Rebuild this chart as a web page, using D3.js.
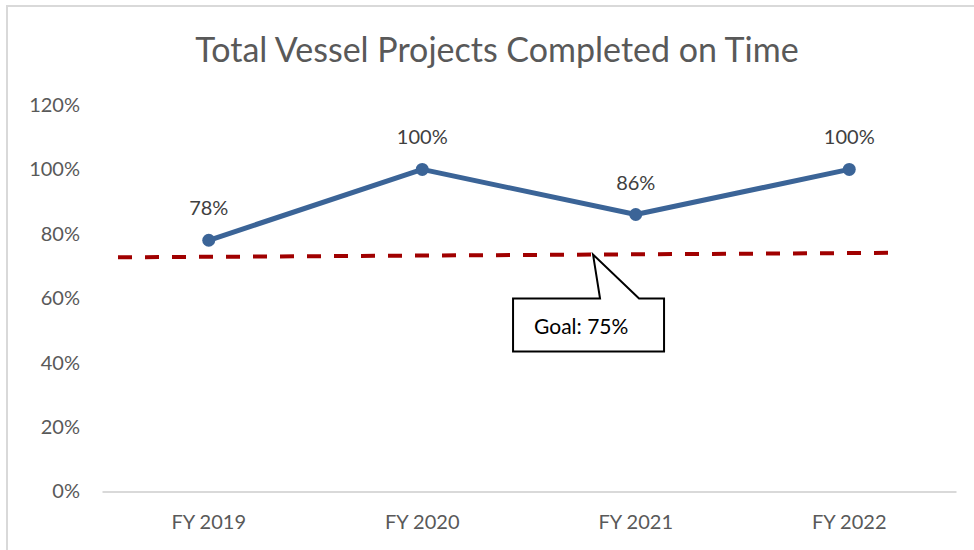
<!DOCTYPE html>
<html>
<head>
<meta charset="utf-8">
<script src="https://cdn.jsdelivr.net/npm/d3@7"></script>
<style>
  html, body { margin: 0; padding: 0; background: #fff; }
  svg { display: block; font-family: Lato, "Open Sans", sans-serif; }
</style>
</head>
<body>
<div id="chart"></div>
<script>
// chart data
const categories = ["FY 2019", "FY 2020", "FY 2021", "FY 2022"];
const onTime = [78, 100, 86, 100];
const yTicks = [0, 20, 40, 60, 80, 100, 120];
const chartTitle = "Total Vessel Projects Completed on Time";

// goal line as drawn (it is a hand placed shape, slightly tilted)
const goalLabel = "Goal: 75%";
const goalEnds = [72.7, 74.1];     // value at left / right end
const goalSpan = [-0.425, 3.19];   // position in category steps
const calloutAt = 1.8;             // where the callout points, category steps

const width = 974, height = 550;

const svg = d3.select("#chart").append("svg")
    .attr("width", width)
    .attr("height", height);

// frame
svg.append("path")
    .attr("d", "M7,550 V6 H974")
    .attr("fill", "none")
    .attr("stroke", "#d9d9d9")
    .attr("stroke-width", 2);

svg.append("text")
    .attr("x", 497)
    .attr("y", 62)
    .attr("text-anchor", "middle")
    .attr("font-size", 34)
    .attr("fill", "#595959")
    .text(chartTitle);

const x = d3.scaleBand().domain(categories).range([102, 956]);
const y = d3.scaleLinear().domain([0, 120]).range([491.5, 105]);
const cx = function(d) { return x(d) + x.bandwidth() / 2; };
const xi = d3.scaleLinear().domain([0, categories.length - 1])
    .range([cx(categories[0]), cx(categories[categories.length - 1])]);

// y axis, labels only
const yAxis = svg.append("g")
    .attr("transform", "translate(102,0)")
    .call(d3.axisLeft(y).tickValues(yTicks).tickFormat(function(d) { return d + "%"; })
        .tickSize(0).tickPadding(22));
yAxis.select(".domain").remove();
yAxis.selectAll("text")
    .attr("font-family", "Lato, 'Open Sans', sans-serif")
    .attr("font-size", 20)
    .attr("fill", "#595959");

// x axis
const xAxis = svg.append("g")
    .attr("transform", "translate(0," + y(0) + ")")
    .call(d3.axisBottom(x).tickSize(0).tickSizeOuter(0).tickPadding(23));
xAxis.select(".domain")
    .attr("stroke", "#d9d9d9")
    .attr("stroke-width", 2);
xAxis.selectAll("text")
    .attr("font-family", "Lato, 'Open Sans', sans-serif")
    .attr("font-size", 20)
    .attr("fill", "#595959");

// goal line
const goalY = d3.scaleLinear().domain(goalSpan).range(goalEnds);
svg.append("line")
    .attr("x1", xi(goalSpan[0]))
    .attr("y1", y(goalEnds[0]))
    .attr("x2", xi(goalSpan[1]))
    .attr("y2", y(goalEnds[1]))
    .attr("stroke", "#a00000")
    .attr("stroke-width", 4)
    .attr("stroke-dasharray", "14,13");

// series line
const line = d3.line()
    .x(function(d, i) { return cx(categories[i]); })
    .y(function(d) { return y(d); });

svg.append("path")
    .datum(onTime)
    .attr("d", line)
    .attr("fill", "none")
    .attr("stroke", "#3b6497")
    .attr("stroke-width", 5)
    .attr("stroke-linejoin", "round");

svg.selectAll(".dot")
    .data(onTime)
    .enter().append("circle")
    .attr("class", "dot")
    .attr("cx", function(d, i) { return cx(categories[i]); })
    .attr("cy", function(d) { return y(d); })
    .attr("r", 6.5)
    .attr("fill", "#3b6497");

svg.selectAll(".lbl")
    .data(onTime)
    .enter().append("text")
    .attr("class", "lbl")
    .attr("x", function(d, i) { return cx(categories[i]); })
    .attr("y", function(d) { return y(d) - 25; })
    .attr("text-anchor", "middle")
    .attr("font-size", 20)
    .attr("fill", "#404040")
    .text(function(d) { return d + "%"; });

// callout
const tx = xi(calloutAt), ty = y(goalY(calloutAt));
const bl = tx - 80, br = tx + 71, bt = ty + 44, bb = ty + 97;
svg.append("path")
    .attr("d", "M" + bl + "," + bt + " H" + (tx + 7) + " L" + tx + "," + ty +
        " L" + (tx + 46) + "," + bt + " H" + br + " V" + bb + " H" + bl + " Z")
    .attr("fill", "#fff")
    .attr("stroke", "#000")
    .attr("stroke-width", 2)
    .attr("stroke-linejoin", "miter");

svg.append("text")
    .attr("x", bl + 21)
    .attr("y", bt + 35)
    .attr("font-size", 21)
    .attr("fill", "#000")
    .text(goalLabel);
</script>
</body>
</html>
